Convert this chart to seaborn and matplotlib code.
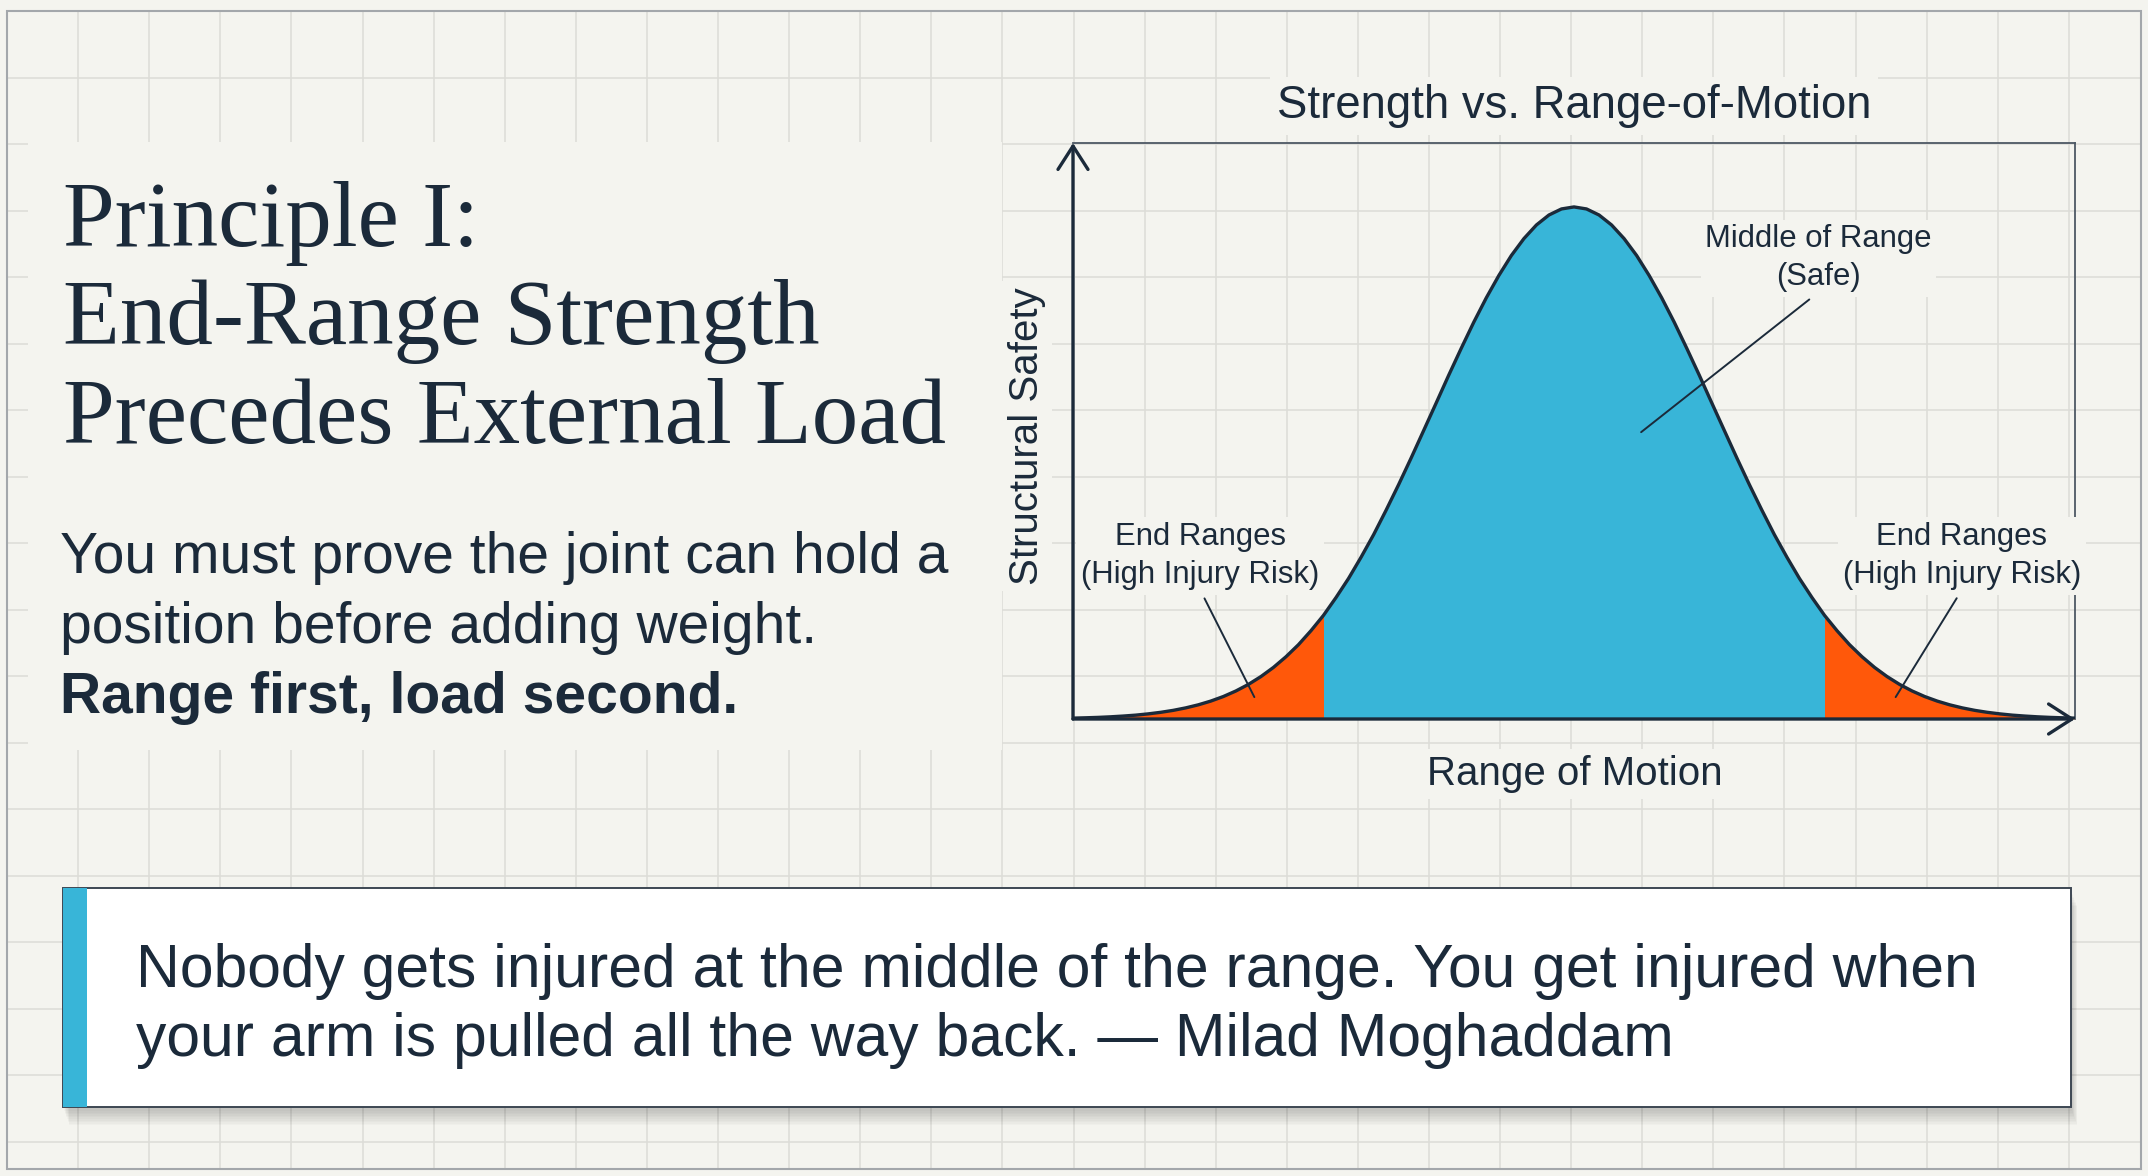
import numpy as np
import matplotlib
matplotlib.use('Agg')
import matplotlib.pyplot as plt
from matplotlib.patches import Rectangle
import seaborn as sns

# --- values ---
rom_x = [0.0000, 0.0125, 0.0250, 0.0375, 0.0500, 0.0625, 0.0750, 0.0875, 0.1000, 0.1125,
         0.1250, 0.1375, 0.1500, 0.1625, 0.1750, 0.1875, 0.2000, 0.2125, 0.2250, 0.2375,
         0.2500, 0.2625, 0.2750, 0.2875, 0.3000, 0.3125, 0.3250, 0.3375, 0.3500, 0.3625,
         0.3750, 0.3875, 0.4000, 0.4125, 0.4250, 0.4375, 0.4500, 0.4625, 0.4750, 0.4875,
         0.5000, 0.5125, 0.5250, 0.5375, 0.5500, 0.5625, 0.5750, 0.5875, 0.6000, 0.6125,
         0.6250, 0.6375, 0.6500, 0.6625, 0.6750, 0.6875, 0.7000, 0.7125, 0.7250, 0.7375,
         0.7500, 0.7625, 0.7750, 0.7875, 0.8000, 0.8125, 0.8250, 0.8375, 0.8500, 0.8625,
         0.8750, 0.8875, 0.9000, 0.9125, 0.9250, 0.9375, 0.9500, 0.9625, 0.9750, 0.9875,
         1.0000]
safety_y = [0.0015, 0.0021, 0.0028, 0.0038, 0.0051, 0.0067, 0.0089, 0.0116, 0.0150, 0.0193,
            0.0246, 0.0311, 0.0390, 0.0486, 0.0600, 0.0736, 0.0895, 0.1080, 0.1290, 0.1533,
            0.1800, 0.2109, 0.2440, 0.2809, 0.3200, 0.3626, 0.4070, 0.4533, 0.5010, 0.5488,
            0.5970, 0.6437, 0.6890, 0.7313, 0.7700, 0.8047, 0.8340, 0.8577, 0.8750, 0.8855,
            0.8890, 0.8855, 0.8750, 0.8577, 0.8340, 0.8047, 0.7700, 0.7313, 0.6890, 0.6437,
            0.5970, 0.5488, 0.5010, 0.4533, 0.4070, 0.3626, 0.3200, 0.2809, 0.2440, 0.2109,
            0.1800, 0.1533, 0.1290, 0.1080, 0.0895, 0.0736, 0.0600, 0.0486, 0.0390, 0.0311,
            0.0246, 0.0193, 0.0150, 0.0116, 0.0089, 0.0067, 0.0051, 0.0038, 0.0028, 0.0021,
            0.0015]
zone_edges = [0.25, 0.75]

chart_title = 'Strength vs. Range-of-Motion'
x_label = 'Range of Motion'
y_label = 'Structural Safety'
mid_label = 'Middle of Range\n(Safe)'
end_label = 'End Ranges\n(High Injury Risk)'

heading_lines = ['Principle I:', 'End-Range Strength', 'Precedes External Load']
body_lines = ['You must prove the joint can hold a', 'position before adding weight.']
body_bold = 'Range first, load second.'
quote_lines = ['Nobody gets injured at the middle of the range. You get injured when',
               'your arm is pulled all the way back. \u2014 Milad Moghaddam']

# colours
BG = '#f4f4ef'
GRID = '#dcdcd7'
NAVY = '#1b2a3a'
BLUE = '#38b5d8'
ORANGE = '#ff580a'

sns.set_theme(style='white')
plt.rcParams['font.family'] = ['Liberation Sans', 'DejaVu Sans']

W, H = 2148, 1176
fig = plt.figure(figsize=(W / 100, H / 100), dpi=100)
fig.patch.set_facecolor(BG)

# background layer in pixel coordinates
bg = fig.add_axes([0, 0, 1, 1], zorder=0)
bg.set_xlim(0, W)
bg.set_ylim(H, 0)
bg.axis('off')

xs = [7 + 71.1 * k for k in range(1, 30)]
ys = [11 + 66.5 * k for k in range(1, 18)]
bg.vlines(xs, 11, 1169, color=GRID, lw=1.1, zorder=1)
bg.hlines(ys, 7, 2141, color=GRID, lw=1.1, zorder=1)
bg.add_patch(Rectangle((7, 11), 2134, 1158, fill=False, ec='#a3a7ab', lw=1.5, zorder=10))

# plain panel behind the left text
bg.add_patch(Rectangle((28, 142), 1002 - 28, 750 - 142, fc=BG, ec='none', zorder=2))

for i, line in enumerate(heading_lines):
    bg.text(63, 246 + i * 98.5, line, fontsize=67, family=['Liberation Serif'],
            color=NAVY, va='baseline', ha='left', zorder=3)
for i, line in enumerate(body_lines):
    bg.text(60, 573 + i * 70, line, fontsize=41, color=NAVY,
            va='baseline', ha='left', zorder=3)
bg.text(60, 713, body_bold, fontsize=41, fontweight='bold', color=NAVY,
        va='baseline', ha='left', zorder=3)

# quote box with soft shadow
qx, qy, qw, qh = 63, 888, 2071 - 63, 1107 - 888
for i in range(10):
    bg.add_patch(Rectangle((qx + 1 + i * 0.6, qy + 4 + i * 1.6), qw, qh,
                           fc='black', alpha=0.018, ec='none', zorder=4))
bg.add_patch(Rectangle((qx, qy), qw, qh, fc='white', ec='#3d4753', lw=1.4, zorder=5))
bg.add_patch(Rectangle((qx, qy), 24, qh, fc=BLUE, ec='none', zorder=6))
for i, line in enumerate(quote_lines):
    bg.text(136, 987 + i * 69, line, fontsize=43.7, color=NAVY,
            va='baseline', ha='left', zorder=7)

# chart texts (outside the axes)
tb = dict(boxstyle='square,pad=0.15', fc=BG, ec='none')
bg.text(1574, 118, chart_title, fontsize=32.8, color=NAVY, ha='center',
        va='baseline', bbox=tb, zorder=3)
bg.text(1575, 785, x_label, fontsize=29, color=NAVY, ha='center',
        va='baseline', bbox=tb, zorder=3)
bg.text(1027, 436, y_label, fontsize=29, color=NAVY, ha='center',
        va='center', rotation=90, bbox=tb, zorder=3)

# chart
ax = fig.add_axes([1073 / W, 1 - 719 / H, 1002 / W, 576 / H], zorder=3)
ax.patch.set_alpha(0)
ax.set_xlim(0, 1)
ax.set_ylim(0, 1)

x = np.array(rom_x)
y = np.array(safety_y)
ax.fill_between(x, y, where=x <= zone_edges[0], color=ORANGE, lw=0, zorder=1)
ax.fill_between(x, y, where=(x >= zone_edges[0]) & (x <= zone_edges[1]),
                color=BLUE, lw=0, zorder=1)
ax.fill_between(x, y, where=x >= zone_edges[1], color=ORANGE, lw=0, zorder=1)
sns.lineplot(x=rom_x, y=safety_y, ax=ax, color=NAVY, lw=2.4, zorder=4)

ax.set_xticks([])
ax.set_yticks([])
ax.set_xlabel('')
ax.set_ylabel('')
for side in ['top', 'right']:
    ax.spines[side].set_color('#4d5864')
    ax.spines[side].set_linewidth(1.3)
for side in ['left', 'bottom']:
    ax.spines[side].set_visible(False)

arrow = dict(arrowstyle='->,head_length=0.42,head_width=0.27', lw=2.4, color=NAVY,
             mutation_scale=40, shrinkA=0, shrinkB=0)
ax.annotate('', xy=(0, 1), xytext=(0, 0), xycoords='axes fraction',
            arrowprops=arrow, annotation_clip=False, zorder=6)
ax.annotate('', xy=(1, 0), xytext=(0, 0), xycoords='axes fraction',
            arrowprops=arrow, annotation_clip=False, zorder=6)

lead = dict(arrowstyle='-', color=NAVY, lw=1.4, relpos=(0.5, 0), shrinkA=3, shrinkB=0)
lb = dict(boxstyle='square,pad=0.15', fc=BG, ec='none')
ax.annotate(mid_label, xy=(0.567, 0.498), xytext=(0.744, 0.80), fontsize=22.4,
            color=NAVY, ha='center', va='center', linespacing=1.35,
            arrowprops=lead, bbox=lb, zorder=7)
ax.annotate(end_label, xy=(0.181, 0.038), xytext=(0.127, 0.283), fontsize=22.4,
            color=NAVY, ha='center', va='center', linespacing=1.35,
            arrowprops=lead, bbox=lb, zorder=7)
ax.annotate(end_label, xy=(0.821, 0.038), xytext=(0.887, 0.283), fontsize=22.4,
            color=NAVY, ha='center', va='center', linespacing=1.35,
            arrowprops=lead, bbox=lb, zorder=7, annotation_clip=False)

fig.savefig('out.png', dpi=100, facecolor=BG)
